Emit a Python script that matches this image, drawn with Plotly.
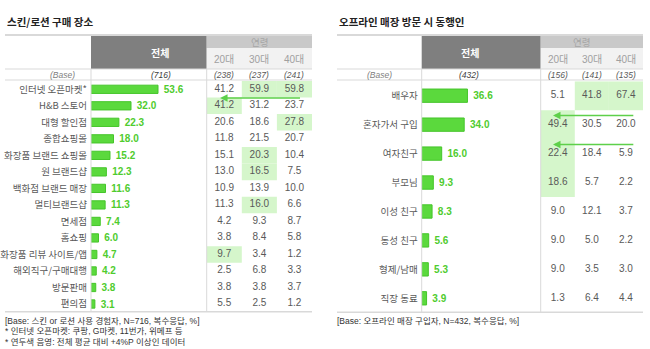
import plotly.graph_objects as go

W, H = 650, 349

# ---------------- data ----------------
ages = ["20대", "30대", "40대"]

left_title = "스킨/로션 구매 장소"
left_cats = ["인터넷 오픈마켓*", "H&B 스토어", "대형 할인점", "종합쇼핑몰", "화장품 브랜드 쇼핑몰",
             "원 브랜드샵", "백화점 브랜드 매장", "멀티브랜드샵", "면세점", "홈쇼핑",
             "화장품 리뷰 사이트/앱", "해외직구/구매대행", "방문판매", "편의점"]
left_total = [53.6, 32.0, 22.3, 18.0, 15.2, 12.3, 11.6, 11.3, 7.4, 6.0, 4.7, 4.2, 3.8, 3.1]
left_20 = [41.2, 41.2, 20.6, 11.8, 15.1, 13.0, 10.9, 11.3, 4.2, 3.8, 9.7, 2.5, 3.8, 5.5]
left_30 = [59.9, 31.2, 18.6, 21.5, 20.3, 16.5, 13.9, 16.0, 9.3, 8.4, 3.4, 6.8, 3.8, 2.5]
left_40 = [59.8, 23.7, 27.8, 20.7, 10.4, 7.5, 10.0, 6.6, 8.7, 5.8, 1.2, 3.3, 3.7, 1.2]
left_base = ["(716)", "(238)", "(237)", "(241)"]
left_hl = [(0, 1), (0, 2), (1, 0), (2, 2), (4, 1), (5, 1), (7, 1), (10, 0)]  # (row, col)
left_notes = ["[Base: 스킨 or 로션 사용 경험자, N=716, 복수응답, %]",
              "* 인터넷 오픈마켓: 쿠팡, G마켓, 11번가, 위메프 등",
              "* 연두색 음영: 전체 평균 대비 +4%P 이상인 데이터"]

right_title = "오프라인 매장 방문 시 동행인"
right_cats = ["배우자", "혼자가서 구입", "여자친구", "부모님", "이성 친구", "동성 친구", "형제/남매", "직장 동료"]
right_total = [36.6, 34.0, 16.0, 9.3, 8.3, 5.6, 5.3, 3.9]
right_20 = [5.1, 49.4, 22.4, 18.6, 9.0, 9.0, 9.0, 1.3]
right_30 = [41.8, 30.5, 18.4, 5.7, 12.1, 5.0, 3.5, 6.4]
right_40 = [67.4, 20.0, 5.9, 2.2, 3.7, 2.2, 3.0, 4.4]
right_base = ["(432)", "(156)", "(141)", "(135)"]
right_hl = [(0, 1), (0, 2), (1, 0), (2, 0), (3, 0)]
right_notes = ["[Base: 오프라인 매장 구입자, N=432, 복수응답, %]"]

# ---------------- styles ----------------
FONT = "Liberation Sans, Arial, Noto Sans CJK KR"
KFONT = "Noto Sans CJK KR, Liberation Sans"
GREEN_BAR = "#5bd93d"
GREEN_BAR_LINE = "#45c52a"
GREEN_TXT = "#4fcc2e"
HL = "#d5f6cb"
GRAY_TXT = "#595959"
LINE = "#d9d9d9"


def px(x):
    return x / W


def py(y):
    return 1 - y / H


fig = go.Figure()
shapes = []
annots = []


def panel(cats, total, c20, c30, c40, base, hl, notes, title, xa, ya, xt,
          x0, xbar, xtab, xend, row_top, row_bot, barw, arrows):
    n = len(cats)
    sp = (row_bot - row_top) / (n - 1)
    ytop = row_top - sp / 2
    ybot = row_bot + sp / 2
    scale = 1.25
    ax_sfx = xa[1:]
    yax_sfx = ya[1:]
    xt_sfx = xt[1:]
    fig.update_layout(**{
        "xaxis" + ax_sfx: dict(domain=[px(xbar), px(xtab)], range=[0, (xtab - xbar) / scale],
                               visible=False, anchor=ya),
        "yaxis" + yax_sfx: dict(domain=[py(ybot), py(ytop)], anchor=xa, type="category",
                                categoryorder="array", categoryarray=cats,
                                range=[n - 0.5, -0.5], showgrid=False, zeroline=False,
                                showline=False, ticks="", ticklabelstandoff=3,
                                tickfont=dict(size=9.5, color=GRAY_TXT, family=KFONT)),
        "xaxis" + xt_sfx: dict(domain=[px(xtab), px(xend)], anchor=ya, type="category",
                               categoryorder="array", categoryarray=ages,
                               range=[-0.5, 2.5], visible=False),
    })
    fig.add_trace(go.Bar(
        x=total, y=cats, orientation="h", xaxis=xa, yaxis=ya, width=barw,
        marker=dict(color=GREEN_BAR, line=dict(color=GREEN_BAR_LINE, width=1)),
        text=[f" {v:.1f}" for v in total], textposition="outside", cliponaxis=False,
        constraintext="none",
        textfont=dict(color=GREEN_TXT, size=10, family=FONT, weight="bold"),
        hoverinfo="skip"))
    for age, vals in zip(ages, [c20, c30, c40]):
        fig.add_trace(go.Scatter(
            x=[age] * n, y=cats, mode="text", xaxis=xt, yaxis=ya,
            text=[f"{v:.1f}" for v in vals],
            textfont=dict(color=GRAY_TXT, size=10, family=FONT), hoverinfo="skip"))
    for r, c in hl:
        shapes.append(dict(type="rect", xref=xt, yref=ya, x0=c - 0.5, x1=c + 0.5,
                           y0=r - 0.5, y1=r + 0.5, fillcolor=HL, line=dict(width=0),
                           layer="below"))
    shapes.append(dict(type="rect", xref="paper", yref="paper", x0=px(xbar), x1=px(xtab),
                       y0=py(69), y1=py(35), fillcolor="#7f7f7f", line=dict(width=0)))
    shapes.append(dict(type="rect", xref="paper", yref="paper", x0=px(xtab), x1=px(xend),
                       y0=py(48), y1=py(35), fillcolor="#c9c9c9", line=dict(width=0)))
    shapes.append(dict(type="rect", xref="paper", yref="paper", x0=px(xtab), x1=px(xend),
                       y0=py(69), y1=py(48), fillcolor="#f2f2f2", line=dict(width=0)))
    for yy, wdt in [(35, 2), (69, 1), (80, 1), (ybot - 0.5, 1.5)]:
        shapes.append(dict(type="line", xref="paper", yref="paper", x0=px(x0), x1=px(xend),
                           y0=py(yy), y1=py(yy), line=dict(color=LINE, width=wdt)))
    for xx in [xbar, xtab]:
        shapes.append(dict(type="line", xref="paper", yref="paper", x0=px(xx), x1=px(xx),
                           y0=py(69), y1=py(ybot - 0.5), line=dict(color=LINE, width=1)))
    annots.append(dict(x=px(x0), y=py(22), xref="paper", yref="paper", text=f"<b>{title}</b>",
                       showarrow=False, xanchor="left", yanchor="middle",
                       font=dict(size=10.5, color="#222222", family=KFONT)))
    annots.append(dict(x=px((xbar + xtab) / 2), y=py(52), xref="paper", yref="paper",
                       text="<b>전체</b>", showarrow=False, yanchor="middle",
                       font=dict(size=10, color="white", family=KFONT)))
    annots.append(dict(x=px((xtab + xend) / 2), y=py(42), xref="paper", yref="paper",
                       text="연령", showarrow=False, yanchor="middle",
                       font=dict(size=9.5, color="#a6a6a6", family=KFONT)))
    for age in ages:
        annots.append(dict(x=age, y=py(60), xref=xt, yref="paper", text=age, showarrow=False,
                           yanchor="middle", font=dict(size=10, color="#a0a0a0", family=FONT)))
    annots.append(dict(x=px((x0 + xbar) / 2), y=py(75), xref="paper", yref="paper",
                       text="<i>(Base)</i>", showarrow=False, yanchor="middle",
                       font=dict(size=8.5, color="#808080", family=FONT)))
    annots.append(dict(x=px((xbar + xtab) / 2), y=py(75), xref="paper", yref="paper",
                       text=f"<i>{base[0]}</i>", showarrow=False, yanchor="middle",
                       font=dict(size=8.5, color="#404040", family=FONT)))
    for age, b in zip(ages, base[1:]):
        annots.append(dict(x=age, y=py(75), xref=xt, yref="paper", text=f"<i>{b}</i>",
                           showarrow=False, yanchor="middle",
                           font=dict(size=8.5, color=GRAY_TXT, family=FONT)))
    for i, note in enumerate(notes):
        annots.append(dict(x=px(x0 - 2), y=py(320.5 + i * 10.7), xref="paper", yref="paper",
                           text=note, showarrow=False, xanchor="left", yanchor="middle",
                           font=dict(size=8.5, color="#333333", family=FONT)))
    for yy, xh, xtl in arrows:
        annots.append(dict(x=xh, y=yy, ax=xtl, ay=yy, xref=xt, yref=ya, axref=xt, ayref=ya,
                           text="", showarrow=True, arrowhead=2, arrowsize=1, arrowwidth=1.5,
                           arrowcolor="#5ed04a", standoff=0, startstandoff=0))


panel(left_cats, left_total, left_20, left_30, left_40, left_base, left_hl, left_notes,
      left_title, "x", "y", "x3", 5, 91, 206.7, 312, 89.3, 304, 0.5,
      arrows=[(0.53, -0.12, 2.2)])
panel(right_cats, right_total, right_20, right_30, right_40, right_base, right_hl, right_notes,
      right_title, "x2", "y2", "x4", 337, 421.7, 540.7, 643, 95.7, 298.3, 0.46,
      arrows=[(0.68, -0.14, 2.26), (1.69, -0.14, 2.26)])

fig.update_layout(width=W, height=H, margin=dict(l=0, r=0, t=0, b=0),
                  paper_bgcolor="white", plot_bgcolor="rgba(0,0,0,0)",
                  showlegend=False, shapes=shapes, annotations=annots,
                  font=dict(family=FONT))

fig.write_html("out.html")
